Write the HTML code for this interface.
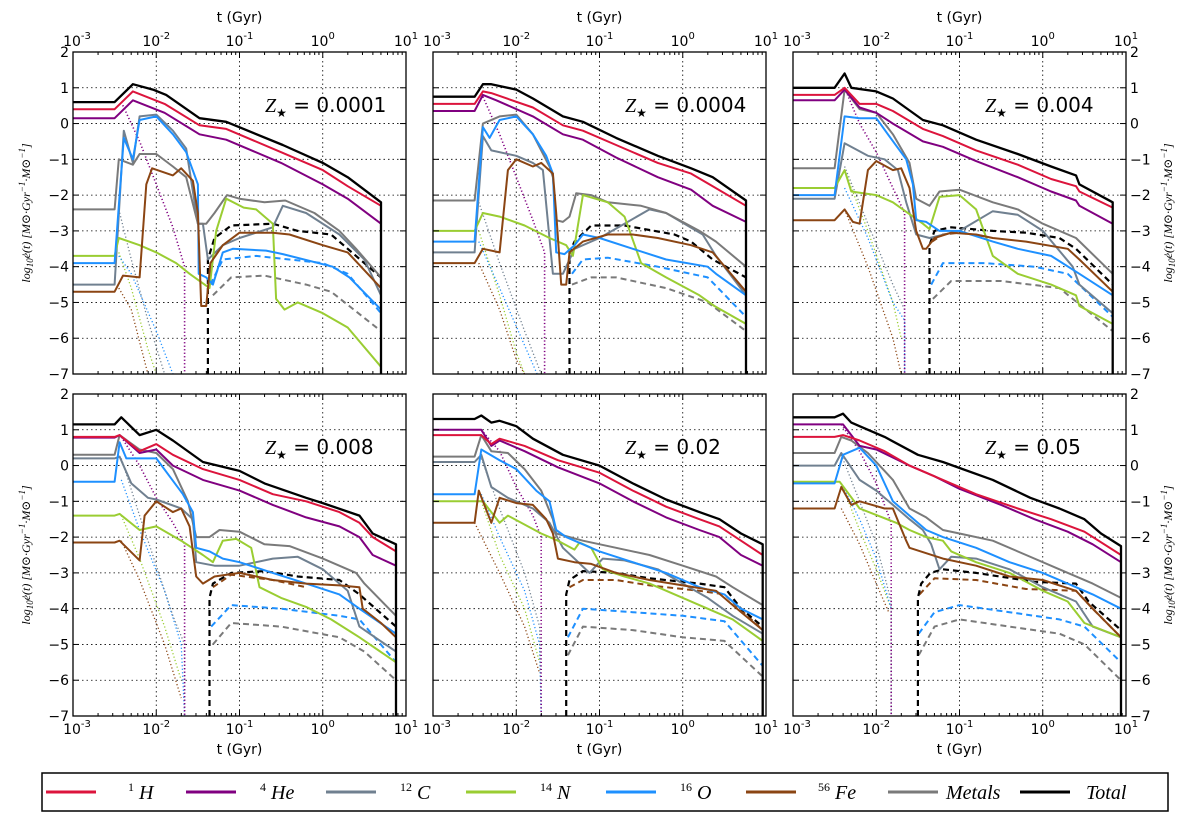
<!DOCTYPE html>
<html><head><meta charset="utf-8"><style>
html,body{margin:0;padding:0;background:#fff;}
svg{display:block;}
text{font-family:"DejaVu Sans","Liberation Sans",sans-serif;}
.it{font-family:"Liberation Serif","DejaVu Serif",serif;font-style:italic;}
</style></head><body>
<svg id="fig" width="1200" height="815" viewBox="0 0 1200 815" xmlns="http://www.w3.org/2000/svg"></svg>
<script>
// ---- data: each array holds one series for panels 1..6, points are [log10 t(Gyr), log10 rate]
const zLabels = ["0.0001","0.0004","0.004","0.008","0.02","0.05"];
const xTicks = [-3,-2,-1,0,1];
const yTicks = [2,1,0,-1,-2,-3,-4,-5,-6,-7];
const serH = [
 [[-3,0.4],[-2.5,0.4],[-2.28,0.9],[-1.9,0.55],[-1.48,-0.05],[-1.16,-0.15],[-0.5,-0.8],[0,-1.3],[0.3,-1.75],[0.7,-2.3]],
 [[-3,0.55],[-2.5,0.55],[-2.4,0.9],[-2.3,0.85],[-1.8,0.45],[-1.44,-0.05],[-1.2,-0.2],[-0.8,-0.6],[-0.3,-1.1],[0.1,-1.4],[0.36,-1.75],[0.76,-2.3]],
 [[-3,0.8],[-2.5,0.8],[-2.38,1.0],[-2.2,0.55],[-2.0,0.55],[-1.8,0.35],[-1.44,-0.15],[-1.2,-0.35],[-0.8,-0.75],[-0.3,-1.15],[0.1,-1.55],[0.4,-1.75],[0.44,-1.9],[0.84,-2.35]],
 [[-3,0.8],[-2.5,0.8],[-2.44,0.85],[-2.2,0.4],[-2.0,0.6],[-1.8,0.3],[-1.44,-0.1],[-1.0,-0.4],[-0.6,-0.8],[-0.2,-1.0],[0.2,-1.3],[0.44,-1.6],[0.6,-2.0],[0.88,-2.4]],
 [[-3,0.85],[-2.5,0.85],[-2.42,0.85],[-2.3,0.6],[-2.2,0.75],[-1.9,0.55],[-1.5,0.15],[-1.0,-0.2],[-0.6,-0.7],[-0.2,-1.15],[0.2,-1.5],[0.44,-1.7],[0.7,-2.1],[0.96,-2.5]],
 [[-3,0.8],[-2.5,0.8],[-2.4,0.85],[-2.2,0.7],[-1.9,0.4],[-1.6,0.0],[-1.2,-0.4],[-0.8,-0.8],[-0.3,-1.2],[0.1,-1.5],[0.5,-1.85],[0.94,-2.5]]];
const serHe = [
 [[-3,0.15],[-2.5,0.15],[-2.28,0.65],[-1.9,0.3],[-1.48,-0.3],[-1.16,-0.45],[-0.5,-1.1],[0,-1.7],[0.3,-2.1],[0.7,-2.8]],
 [[-3,0.35],[-2.5,0.35],[-2.4,0.8],[-2.24,0.65],[-1.8,0.2],[-1.44,-0.3],[-1.2,-0.45],[-0.8,-0.95],[-0.3,-1.5],[0.1,-1.85],[0.36,-2.3],[0.76,-2.75]],
 [[-3,0.65],[-2.5,0.65],[-2.38,0.95],[-2.2,0.45],[-2.0,0.3],[-1.8,0.0],[-1.44,-0.5],[-1.2,-0.65],[-0.8,-1.05],[-0.3,-1.5],[0.1,-1.9],[0.4,-2.15],[0.44,-2.3],[0.84,-2.8]],
 [[-3,0.78],[-2.5,0.78],[-2.44,0.85],[-2.2,0.35],[-2.0,0.45],[-1.8,0.0],[-1.44,-0.4],[-1.0,-0.7],[-0.6,-1.1],[-0.2,-1.45],[0.2,-1.7],[0.44,-2.0],[0.6,-2.5],[0.88,-2.8]],
 [[-3,1.0],[-2.5,1.0],[-2.42,1.0],[-2.3,0.55],[-2.2,0.7],[-1.9,0.4],[-1.5,-0.05],[-1.0,-0.5],[-0.6,-1.0],[-0.2,-1.45],[0.2,-1.8],[0.44,-2.0],[0.7,-2.5],[0.96,-2.8]],
 [[-3,1.15],[-2.5,1.15],[-2.4,1.15],[-2.2,0.55],[-2.0,0.45],[-1.6,0.0],[-1.3,-0.3],[-1.0,-0.65],[-0.5,-1.1],[-0.1,-1.5],[0.3,-1.85],[0.6,-2.2],[0.94,-2.7]]];
const serC = [
 [[-3,-4.5],[-2.5,-4.5],[-2.39,-0.2],[-2.28,-1.1],[-2.2,0.2],[-2.0,0.25],[-1.8,-0.2],[-1.64,-0.7],[-1.5,-2.8],[-1.44,-2.8],[-1.38,-3.8],[-1.2,-3.4],[-1.0,-3.2],[-0.6,-2.9],[-0.48,-2.3],[-0.2,-2.5],[0.2,-3.1],[0.5,-3.8],[0.7,-4.8]],
 [[-3,-3.6],[-2.5,-3.6],[-2.4,-0.35],[-2.3,-0.75],[-2.0,-0.9],[-1.8,-1.1],[-1.68,-1.3],[-1.56,-4.2],[-1.44,-4.2],[-1.3,-3.5],[-1.0,-3.2],[-0.7,-2.8],[-0.4,-2.4],[-0.2,-2.5],[0.24,-3.1],[0.4,-3.7],[0.76,-4.8]],
 [[-3,-2.1],[-2.5,-2.1],[-2.38,-0.55],[-2.1,-0.9],[-1.9,-1.0],[-1.74,-1.3],[-1.64,-2.2],[-1.52,-3.1],[-1.36,-3.2],[-1.0,-3.0],[-0.6,-2.45],[-0.3,-2.55],[0.0,-3.0],[0.36,-4.0],[0.44,-4.5],[0.84,-5.3]],
 [[-3,0.2],[-2.5,0.2],[-2.44,0.25],[-2.3,-0.5],[-2.1,-0.9],[-2.0,-0.95],[-1.7,-1.2],[-1.56,-1.5],[-1.52,-2.7],[-1.3,-2.8],[-1.0,-2.8],[-0.6,-2.6],[-0.3,-2.55],[0.0,-2.9],[0.3,-3.5],[0.44,-4.5],[0.88,-5.2]],
 [[-3,0.1],[-2.5,0.1],[-2.42,0.3],[-2.3,-0.6],[-2.1,-0.9],[-1.8,-1.2],[-1.6,-1.6],[-1.44,-2.3],[-1.3,-2.6],[-1.12,-3.0],[-0.96,-2.6],[-0.7,-2.65],[-0.3,-2.9],[0.0,-3.3],[0.3,-3.7],[0.6,-4.2],[0.96,-4.7]],
 [[-3,0.0],[-2.5,0.0],[-2.42,0.35],[-2.2,-0.4],[-2.0,-0.7],[-1.8,-1.1],[-1.6,-1.5],[-1.44,-1.8],[-1.34,-2.2],[-1.24,-2.9],[-1.1,-2.55],[-0.8,-2.6],[-0.4,-2.9],[0.0,-3.4],[0.4,-3.8],[0.6,-4.5],[0.94,-4.8]]];
const serN = [
 [[-3,-3.7],[-2.5,-3.7],[-2.45,-3.2],[-2.2,-3.4],[-2.0,-3.6],[-1.76,-3.9],[-1.6,-4.2],[-1.36,-4.6],[-1.28,-3.0],[-1.16,-2.1],[-0.95,-2.35],[-0.8,-2.4],[-0.6,-2.8],[-0.56,-4.9],[-0.46,-5.2],[-0.3,-5.0],[0.0,-5.3],[0.3,-5.7],[0.7,-6.8]],
 [[-3,-3.0],[-2.5,-3.0],[-2.4,-2.5],[-2.2,-2.6],[-1.9,-2.85],[-1.6,-3.2],[-1.4,-3.4],[-1.32,-3.7],[-1.2,-2.0],[-0.9,-2.2],[-0.7,-2.6],[-0.5,-3.9],[-0.2,-4.3],[0.2,-4.8],[0.38,-5.1],[0.76,-5.6]],
 [[-3,-1.8],[-2.5,-1.8],[-2.38,-1.3],[-2.3,-1.9],[-2.0,-2.0],[-1.8,-2.2],[-1.44,-2.8],[-1.36,-2.95],[-1.24,-2.05],[-1.0,-2.0],[-0.8,-2.4],[-0.6,-3.7],[-0.3,-4.2],[0.1,-4.5],[0.4,-4.8],[0.44,-5.1],[0.84,-5.6]],
 [[-3,-1.4],[-2.5,-1.4],[-2.44,-1.35],[-2.2,-1.8],[-2.0,-1.7],[-1.7,-2.1],[-1.44,-2.5],[-1.32,-2.7],[-1.2,-2.1],[-1.04,-2.05],[-0.86,-2.3],[-0.76,-3.4],[-0.5,-3.7],[-0.2,-3.95],[0.1,-4.3],[0.44,-4.8],[0.88,-5.5]],
 [[-3,-1.0],[-2.5,-1.0],[-2.4,-1.0],[-2.2,-1.6],[-2.1,-1.4],[-1.7,-1.9],[-1.5,-2.1],[-1.3,-2.35],[-1.24,-2.15],[-1.1,-2.3],[-0.96,-2.9],[-0.7,-3.1],[-0.4,-3.3],[0.0,-3.7],[0.3,-4.0],[0.6,-4.3],[0.96,-4.9]],
 [[-3,-0.45],[-2.5,-0.45],[-2.44,-0.45],[-2.2,-1.2],[-1.76,-1.6],[-1.6,-1.8],[-1.4,-2.0],[-1.2,-2.1],[-1.1,-2.4],[-0.8,-2.7],[-0.4,-3.0],[0.0,-3.5],[0.3,-3.8],[0.5,-4.4],[0.94,-4.8]]];
const serO = [
 [[-3,-3.9],[-2.5,-3.9],[-2.39,-0.4],[-2.28,-1.0],[-2.2,0.1],[-2.0,0.2],[-1.8,-0.3],[-1.64,-0.8],[-1.5,-1.7],[-1.49,-4.2],[-1.4,-4.3],[-1.32,-4.5],[-1.2,-3.6],[-1.08,-3.5],[-0.68,-3.55],[-0.48,-3.65],[0.12,-4.0],[0.32,-4.3],[0.7,-5.2]],
 [[-3,-3.3],[-2.5,-3.3],[-2.4,-0.1],[-2.32,-0.4],[-2.2,0.1],[-2.0,0.2],[-1.8,-0.3],[-1.64,-0.9],[-1.56,-1.4],[-1.52,-3.6],[-1.42,-3.65],[-1.3,-3.4],[-1.2,-3.1],[-1.0,-3.2],[-0.6,-3.5],[-0.2,-3.8],[0.3,-4.0],[0.4,-4.2],[0.76,-4.8]],
 [[-3,-2.0],[-2.5,-2.0],[-2.38,0.2],[-2.2,0.15],[-2.0,0.15],[-1.86,-0.3],[-1.64,-1.0],[-1.56,-1.7],[-1.52,-2.7],[-1.4,-2.75],[-1.24,-3.0],[-1.0,-3.0],[-0.6,-3.3],[-0.3,-3.5],[0.1,-3.7],[0.44,-4.2],[0.84,-4.8]],
 [[-3,-0.45],[-2.5,-0.45],[-2.44,0.65],[-2.36,0.2],[-2.0,0.2],[-1.84,-0.3],[-1.68,-0.8],[-1.56,-1.3],[-1.52,-2.3],[-1.36,-2.4],[-1.2,-2.6],[-1.0,-2.7],[-0.6,-3.0],[-0.2,-3.3],[0.2,-3.6],[0.44,-4.0],[0.88,-4.7]],
 [[-3,-0.8],[-2.5,-0.8],[-2.42,0.45],[-2.2,0.15],[-2.0,-0.1],[-1.76,-0.7],[-1.6,-1.0],[-1.52,-1.8],[-1.4,-2.0],[-1.2,-2.2],[-1.0,-2.4],[-0.6,-2.7],[-0.2,-3.0],[0.2,-3.4],[0.5,-3.6],[0.7,-4.0],[0.96,-4.3]],
 [[-3,-0.5],[-2.5,-0.5],[-2.4,0.3],[-2.2,0.5],[-2.0,0.0],[-1.8,-1.0],[-1.6,-1.4],[-1.4,-1.8],[-1.2,-2.0],[-0.8,-2.3],[-0.4,-2.7],[0.0,-3.0],[0.4,-3.4],[0.6,-3.6],[0.94,-4.0]]];
const serFe = [
 [[-3,-4.7],[-2.5,-4.7],[-2.4,-4.25],[-2.2,-4.3],[-2.12,-1.7],[-2.05,-1.25],[-1.8,-1.45],[-1.7,-1.25],[-1.56,-1.6],[-1.5,-2.5],[-1.46,-5.1],[-1.4,-5.1],[-1.35,-3.9],[-1.2,-3.4],[-1.0,-3.05],[-0.6,-3.05],[-0.4,-3.1],[0.0,-3.4],[0.3,-3.6],[0.7,-4.6]],
 [[-3,-3.9],[-2.5,-3.9],[-2.4,-3.5],[-2.2,-3.6],[-2.1,-1.3],[-2.0,-1.0],[-1.8,-1.2],[-1.7,-1.1],[-1.56,-1.4],[-1.52,-2.5],[-1.46,-4.5],[-1.4,-4.5],[-1.36,-3.6],[-1.2,-3.3],[-0.9,-3.1],[-0.6,-3.1],[-0.3,-3.2],[0.1,-3.4],[0.36,-3.6],[0.76,-4.7]],
 [[-3,-2.7],[-2.5,-2.7],[-2.38,-2.4],[-2.28,-2.75],[-2.2,-2.8],[-2.1,-1.3],[-2.0,-1.05],[-1.8,-1.3],[-1.7,-1.25],[-1.6,-1.8],[-1.52,-3.0],[-1.44,-3.5],[-1.4,-3.5],[-1.3,-3.2],[-1.1,-3.05],[-0.8,-3.1],[-0.6,-3.2],[-0.2,-3.3],[0.3,-3.5],[0.44,-3.8],[0.84,-4.7]],
 [[-3,-2.15],[-2.5,-2.15],[-2.44,-2.1],[-2.2,-2.65],[-2.14,-1.4],[-2.0,-1.0],[-1.8,-1.3],[-1.7,-1.2],[-1.6,-1.7],[-1.52,-3.1],[-1.44,-3.3],[-1.3,-3.1],[-1.0,-3.0],[-0.6,-3.2],[-0.2,-3.3],[0.2,-3.35],[0.44,-3.4],[0.48,-4.0],[0.7,-4.4],[0.88,-4.8]],
 [[-3,-1.6],[-2.5,-1.6],[-2.45,-0.7],[-2.3,-1.6],[-2.2,-0.9],[-2.0,-1.05],[-1.8,-1.1],[-1.64,-1.5],[-1.56,-1.9],[-1.5,-2.6],[-1.3,-2.7],[-1.1,-2.75],[-0.8,-3.0],[-0.4,-3.2],[0.0,-3.35],[0.4,-3.5],[0.6,-3.9],[0.96,-4.6]],
 [[-3,-1.2],[-2.5,-1.2],[-2.42,-0.6],[-2.3,-1.1],[-2.2,-1.0],[-1.9,-1.2],[-1.8,-1.2],[-1.64,-2.1],[-1.6,-2.3],[-1.2,-2.6],[-0.8,-2.8],[-0.4,-3.1],[0.0,-3.2],[0.4,-3.5],[0.6,-4.0],[0.94,-4.8]]];
const serMet = [
 [[-3,-2.4],[-2.5,-2.4],[-2.45,-1.0],[-2.28,-1.15],[-2.2,-0.85],[-2.0,-0.85],[-1.8,-1.2],[-1.64,-1.5],[-1.5,-2.8],[-1.4,-2.8],[-1.3,-2.5],[-1.15,-2.0],[-1.0,-2.1],[-0.7,-2.2],[-0.45,-2.15],[-0.1,-2.5],[0.2,-3.0],[0.4,-3.5],[0.7,-4.3]],
 [[-3,-2.15],[-2.5,-2.15],[-2.4,0.0],[-2.2,0.2],[-2.0,0.25],[-1.8,-0.3],[-1.6,-1.2],[-1.56,-1.5],[-1.52,-2.7],[-1.44,-2.75],[-1.36,-2.6],[-1.28,-1.95],[-1.1,-2.0],[-0.9,-2.2],[-0.5,-2.3],[-0.2,-2.5],[0.2,-3.0],[0.4,-3.3],[0.76,-4.0]],
 [[-3,-1.25],[-2.5,-1.25],[-2.38,0.95],[-2.2,0.4],[-2.0,0.3],[-1.8,-0.3],[-1.6,-1.1],[-1.52,-2.1],[-1.36,-2.3],[-1.24,-1.9],[-1.0,-1.85],[-0.6,-2.2],[-0.3,-2.4],[0.0,-2.8],[0.4,-3.2],[0.84,-4.2]],
 [[-3,0.3],[-2.5,0.3],[-2.44,0.85],[-2.2,0.45],[-2.0,0.35],[-1.8,-0.1],[-1.62,-1.0],[-1.52,-2.0],[-1.36,-2.0],[-1.24,-1.8],[-1.0,-1.85],[-0.7,-2.2],[-0.4,-2.25],[0.0,-2.6],[0.4,-3.0],[0.5,-3.3],[0.88,-4.2]],
 [[-3,0.25],[-2.5,0.25],[-2.42,0.85],[-2.3,0.4],[-2.1,0.35],[-1.9,-0.1],[-1.7,-0.7],[-1.56,-1.5],[-1.52,-1.9],[-1.2,-2.1],[-0.8,-2.3],[-0.4,-2.5],[0.0,-2.8],[0.4,-3.1],[0.6,-3.4],[0.96,-3.9]],
 [[-3,0.35],[-2.5,0.35],[-2.42,0.8],[-2.3,0.7],[-2.1,0.35],[-1.8,-0.4],[-1.6,-1.2],[-1.4,-1.45],[-1.2,-1.8],[-1.0,-1.9],[-0.6,-2.1],[-0.2,-2.5],[0.2,-2.9],[0.6,-3.3],[0.94,-3.7]]];
const serTot = [
 [[-3,0.6],[-2.5,0.6],[-2.28,1.1],[-2.04,0.95],[-1.88,0.8],[-1.48,0.15],[-1.16,0.05],[-0.48,-0.6],[0,-1.1],[0.3,-1.5],[0.7,-2.2],[0.7,-7]],
 [[-3,0.75],[-2.5,0.75],[-2.4,1.1],[-2.3,1.1],[-2.0,0.95],[-1.8,0.7],[-1.44,0.2],[-1.2,0.05],[-0.8,-0.4],[-0.3,-0.9],[0.1,-1.25],[0.36,-1.5],[0.76,-2.15],[0.76,-7]],
 [[-3,1.0],[-2.5,1.0],[-2.38,1.4],[-2.3,1.0],[-2.0,0.9],[-1.8,0.7],[-1.44,0.1],[-1.2,-0.05],[-0.8,-0.45],[-0.3,-0.85],[0.1,-1.2],[0.4,-1.45],[0.44,-1.7],[0.84,-2.2],[0.84,-7]],
 [[-3,1.15],[-2.5,1.15],[-2.42,1.35],[-2.2,0.85],[-2.0,1.0],[-1.8,0.7],[-1.44,0.1],[-1.0,-0.15],[-0.7,-0.5],[-0.2,-0.9],[0.0,-1.05],[0.44,-1.4],[0.6,-1.9],[0.88,-2.2],[0.88,-7]],
 [[-3,1.3],[-2.5,1.3],[-2.42,1.4],[-2.3,1.2],[-2.2,1.25],[-2.0,1.1],[-1.8,0.75],[-1.44,0.3],[-1.0,0.0],[-0.6,-0.5],[-0.2,-0.95],[0.2,-1.3],[0.44,-1.5],[0.7,-1.9],[0.96,-2.2],[0.96,-7]],
 [[-3,1.35],[-2.5,1.35],[-2.4,1.45],[-2.3,1.2],[-2.2,1.1],[-1.9,0.8],[-1.5,0.3],[-1.2,0.1],[-0.6,-0.4],[-0.15,-0.9],[0.2,-1.2],[0.5,-1.5],[0.7,-1.9],[0.94,-2.25],[0.94,-7]]];
const serTotIa = [
 [[-1.38,-7],[-1.38,-3.8],[-1.3,-3.2],[-1.1,-2.85],[-0.6,-2.8],[-0.3,-3.0],[0.1,-3.1],[0.3,-3.5],[0.7,-4.3]],
 [[-1.36,-7],[-1.36,-3.6],[-1.3,-3.3],[-1.1,-2.85],[-0.7,-2.85],[-0.1,-3.1],[0.1,-3.3],[0.36,-3.8],[0.76,-4.3]],
 [[-1.36,-7],[-1.36,-3.4],[-1.3,-3.0],[-1.1,-2.9],[-0.6,-3.0],[-0.2,-3.05],[0.2,-3.2],[0.4,-3.5],[0.84,-4.5]],
 [[-1.36,-7],[-1.36,-3.7],[-1.32,-3.3],[-1.1,-3.0],[-0.7,-2.95],[-0.3,-3.1],[0.2,-3.2],[0.44,-3.6],[0.88,-4.5]],
 [[-1.4,-7],[-1.4,-3.6],[-1.36,-3.2],[-1.2,-2.95],[-0.8,-3.0],[-0.4,-3.15],[0.2,-3.3],[0.5,-3.4],[0.7,-4.0],[0.96,-4.5]],
 [[-1.5,-7],[-1.5,-3.7],[-1.46,-3.3],[-1.35,-3.0],[-1.2,-2.9],[-0.8,-3.0],[-0.1,-3.25],[0.4,-3.3],[0.55,-3.8],[0.94,-4.6]]];
const serFeIa = [[],[],
 [[-1.33,-3.3],[-1.2,-3.1],[-1.0,-3.05],[-0.7,-3.15]],
 [[-1.32,-3.4],[-1.1,-3.05],[-0.6,-3.2],[-0.2,-3.4]],
 [[-1.36,-3.4],[-1.2,-3.2],[-0.8,-3.2],[-0.4,-3.35],[0.2,-3.5],[0.5,-3.6],[0.96,-4.6]],
 [[-1.48,-3.6],[-1.3,-3.15],[-0.8,-3.2],[-0.2,-3.45],[0.4,-3.5],[0.6,-4.0],[0.94,-4.8]]];
const serOIa = [
 [[-1.35,-4.5],[-1.2,-3.8],[-0.8,-3.7],[0,-3.9],[0.3,-4.2],[0.7,-5.3]],
 [[-1.33,-4.2],[-1.2,-3.8],[-0.9,-3.75],[-0.3,-4.0],[0.3,-4.3],[0.76,-5.4]],
 [[-1.34,-4.5],[-1.2,-3.9],[-0.7,-3.9],[-0.1,-4.0],[0.3,-4.2],[0.84,-5.4]],
 [[-1.34,-4.5],[-1.1,-3.9],[-0.5,-4.0],[0.2,-4.2],[0.44,-4.3],[0.88,-5.5]],
 [[-1.38,-4.8],[-1.2,-4.0],[-0.6,-4.1],[0.0,-4.2],[0.5,-4.35],[0.96,-5.6]],
 [[-1.49,-4.7],[-1.3,-4.1],[-1.0,-3.9],[-0.4,-4.1],[0.2,-4.3],[0.5,-4.5],[0.94,-5.5]]];
const serMetIa = [
 [[-1.32,-4.8],[-1.1,-4.3],[-0.7,-4.25],[-0.2,-4.5],[0.1,-4.7],[0.7,-5.8]],
 [[-1.33,-4.5],[-1.1,-4.3],[-0.8,-4.3],[-0.2,-4.6],[0.3,-5.0],[0.76,-5.8]],
 [[-1.32,-4.9],[-1.1,-4.4],[-0.5,-4.4],[0.2,-4.6],[0.84,-5.8]],
 [[-1.32,-5.0],[-1.1,-4.4],[-0.5,-4.5],[0.2,-4.8],[0.5,-5.2],[0.88,-6.0]],
 [[-1.38,-5.3],[-1.2,-4.5],[-0.6,-4.6],[0.0,-4.8],[0.5,-4.9],[0.96,-5.9]],
 [[-1.49,-5.3],[-1.3,-4.5],[-1.0,-4.3],[-0.4,-4.5],[0.2,-4.7],[0.5,-5.0],[0.94,-6.0]]];
const dotHe = [
 [[-2.42,0.6],[-2.2,-0.5],[-2.0,-1.7],[-1.8,-2.9],[-1.66,-4.0],[-1.66,-7]],
 [[-2.4,0.75],[-2.2,-0.3],[-2.0,-1.5],[-1.8,-2.7],[-1.66,-3.6],[-1.66,-7]],
 [[-2.38,1.0],[-2.2,0.0],[-2.0,-0.8],[-1.8,-1.8],[-1.66,-2.5],[-1.66,-7]],
 [[-2.42,0.8],[-2.2,0.0],[-2.0,-0.9],[-1.8,-1.6],[-1.66,-2.2],[-1.66,-7]],
 [[-2.42,1.0],[-2.2,0.4],[-2.0,-0.6],[-1.8,-1.4],[-1.7,-2.0],[-1.7,-7]],
 [[-2.42,1.15],[-2.2,0.4],[-2.0,-0.5],[-1.82,-1.6],[-1.82,-7]]];
const dotC = [
 [[-2.45,-2.4],[-2.3,-3.8],[-2.1,-5.5],[-1.9,-7]],
 [[-2.45,-2.2],[-2.2,-3.9],[-1.9,-5.8],[-1.7,-7]],
 [[-2.38,-1.2],[-2.1,-2.8],[-1.8,-4.5],[-1.66,-5.2],[-1.66,-7]],
 [[-2.42,0.2],[-2.2,-1.4],[-2.0,-2.8],[-1.8,-4.2],[-1.66,-5],[-1.66,-7]],
 [[-2.42,0.2],[-2.2,-1.2],[-1.9,-3.0],[-1.72,-4.5],[-1.7,-7]],
 [[-2.42,0.3],[-2.2,-1.0],[-2.0,-2.2],[-1.82,-3.8],[-1.82,-7]]];
const dotO = [
 [[-2.45,-3.7],[-2.3,-4.2],[-2.0,-5.8],[-1.8,-7]],
 [[-2.45,-3.3],[-2.2,-4.6],[-1.9,-6.2],[-1.75,-7]],
 [[-2.38,-1.8],[-2.1,-3.2],[-1.8,-5.0],[-1.66,-5.5],[-1.66,-7]],
 [[-2.42,-0.4],[-2.2,-1.8],[-1.9,-3.5],[-1.7,-5],[-1.66,-7]],
 [[-2.42,-0.8],[-2.2,-2.0],[-1.9,-3.5],[-1.72,-5.0],[-1.7,-7]],
 [[-2.42,-0.5],[-2.2,-1.5],[-2.0,-2.6],[-1.82,-4.0]]];
const dotN = [
 [[-2.45,-3.6],[-2.3,-4.6],[-2.1,-6.3],[-2.0,-7]],
 [[-2.45,-3.0],[-2.2,-4.8],[-2.0,-6.4],[-1.9,-7]],
 [[-2.38,-1.3],[-2.1,-3.0],[-1.8,-5.0],[-1.7,-6.0]],
 [[-2.42,-1.4],[-2.2,-2.6],[-1.9,-4.5],[-1.7,-6]],
 [[-2.42,-1.0],[-2.2,-2.5],[-1.9,-4.0],[-1.72,-5.5]],
 [[-2.42,-0.5],[-2.2,-1.8],[-2.0,-2.9],[-1.82,-4.0]]];
const dotFe = [
 [[-2.45,-4.6],[-2.3,-5.2],[-2.1,-7]],
 [[-2.45,-3.9],[-2.2,-5.2],[-2.0,-6.6],[-1.9,-7]],
 [[-2.38,-2.4],[-2.1,-4.0],[-1.8,-6.0],[-1.7,-7]],
 [[-2.42,-2.1],[-2.2,-3.2],[-1.9,-5.0],[-1.7,-6.5]],
 [[-2.5,-1.6],[-2.2,-3.0],[-1.9,-4.5],[-1.72,-5.8]],
 [[-2.42,-1.2],[-2.2,-2.2],[-2.0,-3.3],[-1.85,-4.1]]];
const legendNames = ["H","He","C","N","O","Fe","Metals","Total"];
const legendSup = ["1","4","12","14","16","56","",""];

// ---- layout
const NS = "http://www.w3.org/2000/svg";
const svg = document.getElementById("fig");
const PW = 333, PH = 322;
const lefts = [73, 433, 793], tops = [52, 394];
const col = {H:"#dc143c",He:"#800080",C:"#708090",N:"#9acd32",O:"#1e90ff",Fe:"#8b4513",Met:"#7a7a7a",Tot:"#000"};
function mk(tag, attrs, parent){ const e=document.createElementNS(NS,tag); for(const k in attrs) e.setAttribute(k,attrs[k]); (parent||svg).appendChild(e); return e; }
function sxF(L){ return lt => L + (lt+3)/4*PW; }
function syF(T){ return v => T + (2-v)/9*PH; }
function tickLabel(parent, x, y, exp, anchor){
  const t = mk("text",{x:x,y:y,"font-size":"14","text-anchor":anchor||"middle"},parent);
  t.appendChild(document.createTextNode("10"));
  const s = mk("tspan",{"font-size":"10",dy:"-7"},t); s.textContent = String(exp).replace("-","-");
  return t;
}

for(let p=0;p<6;p++){
  const L = lefts[p%3], T = tops[Math.floor(p/3)];
  const sx = sxF(L), sy = syF(T);
  const g = mk("g",{});
  
  
  const cid = "clip"+p;
  const cp = mk("clipPath",{id:cid},g); mk("rect",{x:L,y:T,width:PW,height:PH},cp);
  // grid
  const grid = mk("g",{},g);
  
  
  xTicks.forEach(v=>{ mk("line",{x1:sx(v),x2:sx(v),y1:T,y2:T+PH,stroke:"#000","stroke-width":"0.8","stroke-dasharray":"1.5,3"},grid); });
  yTicks.forEach(v=>{ mk("line",{x1:L,x2:L+PW,y1:sy(v),y2:sy(v),stroke:"#000","stroke-width":"0.8","stroke-dasharray":"1.5,3"},grid); });
  // series
  const sg = mk("g",{"clip-path":"url(#"+cid+")"},g);
  function line(data, color, w, dash, name){
    if(!data || !data.length) return;
    const d = data.map((pt,i)=>(i?"L":"M")+sx(pt[0]).toFixed(1)+" "+sy(pt[1]).toFixed(1)).join(" ");
    const a = {d:d,fill:"none",stroke:color,"stroke-width":w,"stroke-linejoin":"round"};
    if(dash) a["stroke-dasharray"]=dash;
    const e = mk("path",a,sg);
    
    
  }
  const dd = "1.2,2.3";
  line(dotFe[p], col.Fe, 1.3, dd, "fe-massive-dotted");
  line(dotN[p], col.N, 1.3, dd, "n-massive-dotted");
  line(dotO[p], col.O, 1.3, dd, "o-massive-dotted");
  line(dotC[p], col.C, 1.3, dd, "c-massive-dotted");
  line(dotHe[p], col.He, 1.6, dd, "he-massive-dotted");
  line(serMetIa[p], col.Met, 2, "6,4", "metals-snia-dashed");
  line(serOIa[p], col.O, 2, "6,4", "o-snia-dashed");
  line(serFeIa[p], col.Fe, 2, "6,4", "fe-snia-dashed");
  line(serTotIa[p], "#000", 2.2, "6,4", "total-snia-dashed");
  line(serC[p], col.C, 2, null, "c12-line");
  line(serMet[p], col.Met, 2, null, "metals-line");
  line(serN[p], col.N, 2, null, "n14-line");
  line(serO[p], col.O, 2, null, "o16-line");
  line(serFe[p], col.Fe, 2, null, "fe56-line");
  line(serHe[p], col.He, 2, null, "he4-line");
  line(serH[p], col.H, 2, null, "h1-line");
  line(serTot[p], "#000", 2.3, null, "total-line");
  // frame + ticks
  const fr = mk("rect",{x:L,y:T,width:PW,height:PH,fill:"none",stroke:"#000","stroke-width":"1.3"},g);
  
  
  for(let dec=-3; dec<1; dec++){
    for(let m=1;m<10;m++){
      const x = sx(dec+Math.log10(m)); const len = m===1?6:3;
      mk("line",{x1:x,x2:x,y1:T,y2:T+len,stroke:"#000","stroke-width":"1"},g);
      mk("line",{x1:x,x2:x,y1:T+PH,y2:T+PH-len,stroke:"#000","stroke-width":"1"},g);
    }
  }
  yTicks.forEach(v=>{ mk("line",{x1:L,x2:L+6,y1:sy(v),y2:sy(v),stroke:"#000"},g); mk("line",{x1:L+PW,x2:L+PW-6,y1:sy(v),y2:sy(v),stroke:"#000"},g); });
  // x tick labels
  const top = p<3;
  const xl = mk("g",{},g);
  
  
  xTicks.forEach((v,i)=>{ tickLabel(xl, sx(v)+(i===0?4:0), top?T-6:T+PH+18, v, "middle"); });
  const xt = mk("text",{x:L+PW/2,y:top?T-30:T+PH+38,"font-size":"14","text-anchor":"middle"},g);
  xt.textContent = "t (Gyr)";
  
  
  // y tick labels
  if(p%3!==1){
    const yl = mk("g",{},g);
    
    
    const left = p%3===0;
    yTicks.forEach(v=>{
      const t = mk("text",{x:left?L-4:L+PW+4,y:sy(v)+5,"font-size":"14","text-anchor":left?"end":"start"},yl);
      t.textContent = v<0 ? "\u2212"+(-v) : String(v);
    });
    const cx = left?30:1172, cy = T+PH/2;
    const yt = mk("text",{x:cx,y:cy,"font-size":"12","text-anchor":"middle",transform:"rotate(-90 "+cx+" "+cy+")","class":"it"},g);
    
    
    yt.appendChild(document.createTextNode("log"));
    const s1 = mk("tspan",{"font-size":"9",dy:"3"},yt); s1.textContent="10";
    const s2 = mk("tspan",{dy:"-3"},yt); s2.textContent="\u0117(t) [M\u2299\u00b7Gyr";
    const s3 = mk("tspan",{"font-size":"9",dy:"-5"},yt); s3.textContent="\u22121";
    const s4 = mk("tspan",{dy:"5"},yt); s4.textContent="\u00b7M\u2299";
    const s5 = mk("tspan",{"font-size":"9",dy:"-5"},yt); s5.textContent="\u22121";
    const s6 = mk("tspan",{dy:"5"},yt); s6.textContent="]";
  }
  // Z label
  const zl = mk("text",{x:L+192,y:T+60,"font-size":"20"},g);
  
  
  const z1 = mk("tspan",{"class":"it"},zl); z1.textContent="Z";
  const z2 = mk("tspan",{"font-size":"12",dy:"5"},zl); z2.textContent="\u2605";
  const z3 = mk("tspan",{dy:"-5"},zl); z3.textContent=" = "+zLabels[p];
}

// ---- legend
const lg = mk("g",{});


mk("rect",{x:42,y:773,width:1126,height:38,fill:"#fff",stroke:"#000","stroke-width":"1.5"},lg);
const legCols = [col.H,col.He,col.C,col.N,col.O,col.Fe,col.Met,"#000"];
const legLineX = [46,186,326,466,606,746,888,1020];
const legTextX = [128,260,400,540,680,818,946,1086];
legendNames.forEach((n,i)=>{
  const e = mk("g",{},lg);
  
  
  mk("line",{x1:legLineX[i],x2:legLineX[i]+50,y1:792,y2:792,stroke:legCols[i],"stroke-width":"3"},e);
  const t = mk("text",{x:legTextX[i],y:799,"font-size":"20"},e);
  if(legendSup[i]){ const s = mk("tspan",{"font-size":"12",dy:"-8","font-family":"Liberation Serif"},t); s.textContent=legendSup[i]; const s2 = mk("tspan",{dy:"8","class":"it"},t); s2.textContent=" "+n; }
  else { const s = mk("tspan",{"class":"it"},t); s.textContent=n; }
});
</script>
</body></html>
